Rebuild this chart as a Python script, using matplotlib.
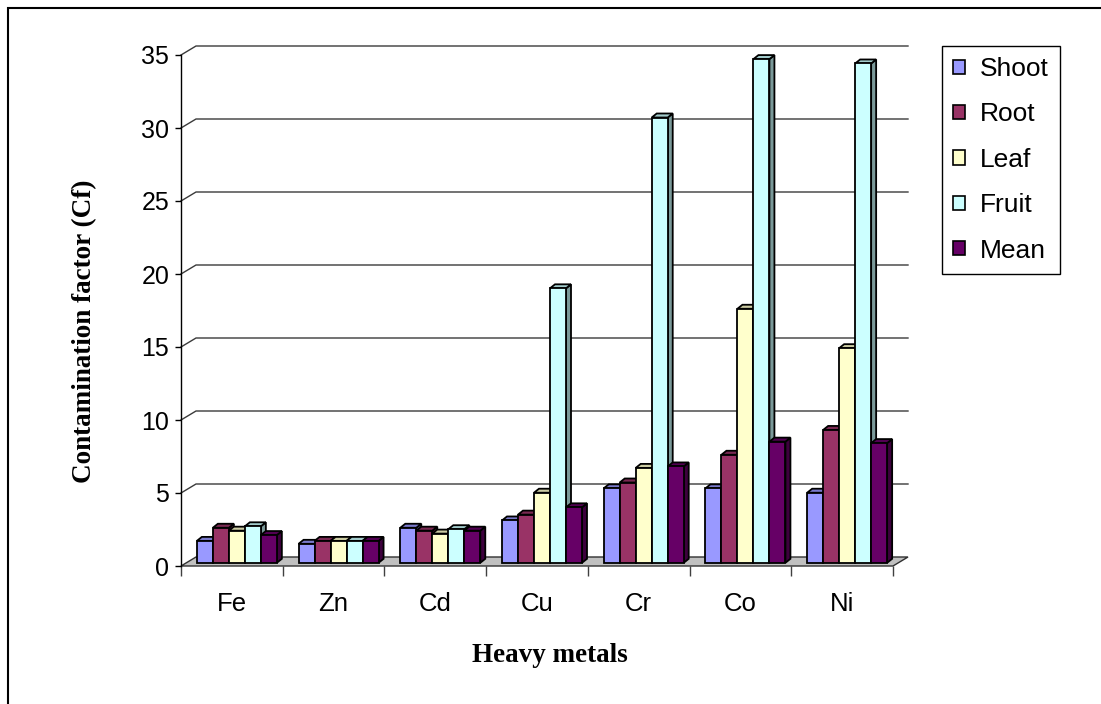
import matplotlib
matplotlib.use("Agg")
import matplotlib.pyplot as plt
from matplotlib.patches import Polygon, Patch, Rectangle
from matplotlib.colors import to_rgb

# Contamination factor per plant part for each heavy metal
metals = ["Fe", "Zn", "Cd", "Cu", "Cr", "Co", "Ni"]
series_names = ["Shoot", "Root", "Leaf", "Fruit", "Mean"]
shoot = [1.5, 1.3, 2.4, 2.9, 5.1, 5.1, 4.8]
root = [2.4, 1.5, 2.2, 3.3, 5.5, 7.4, 9.1]
leaf = [2.2, 1.5, 2.0, 4.8, 6.5, 17.4, 14.7]
fruit = [2.5, 1.5, 2.3, 18.8, 30.5, 34.5, 34.2]
mean = [1.9, 1.5, 2.2, 3.8, 6.6, 8.3, 8.2]
yticks = [0, 5, 10, 15, 20, 25, 30, 35]

series = [shoot, root, leaf, fruit, mean]
colors = ["#9999FF", "#993366", "#FFFFCC", "#CCFFFF", "#660066"]

plt.rcParams["font.family"] = ["Liberation Sans", "DejaVu Sans"]

W, H = 1101, 704
fig = plt.figure(figsize=(W / 100, H / 100), dpi=100)
# axes = front plane of the 3-D plot box
ax_l, ax_b, ax_w, ax_h = 181, 566, 712, 511  # pixels (b measured from top)
ax = fig.add_axes([ax_l / W, (H - ax_b) / H, ax_w / W, ax_h / H])
ncat = len(metals)
ax.set_xlim(0, ncat)
ax.set_ylim(0, yticks[-1])
ax.patch.set_visible(False)

# pixel -> data conversion factors for the oblique depth offsets
ppx = ax_w / ncat
ppy = ax_h / yticks[-1]
wall_dx, wall_dy = 15 / ppx, 9 / ppy      # back wall offset
bar_x0, bar_y0 = 5 / ppx, 3.2 / ppy       # bar front plane offset
bar_dx, bar_dy = 5 / ppx, 4 / ppy         # bar depth
bar_w = 16 / ppx
gap = (1 - len(series) * bar_w) / 2

grid_col = "#3a3a3a"
# back-wall gridlines with slanted connectors to the value axis
for v in yticks[1:]:
    ax.plot([0, wall_dx, ncat + wall_dx], [v, v + wall_dy, v + wall_dy],
            color=grid_col, lw=1.0, clip_on=False, zorder=1)

# floor
floor = Polygon([(0, 0), (ncat, 0), (ncat + wall_dx, wall_dy), (wall_dx, wall_dy)],
                closed=True, facecolor="#C0C0C0", edgecolor="#303030", lw=1.0,
                clip_on=False, zorder=2)
ax.add_patch(floor)


def shade(c, f):
    r, g, b = to_rgb(c)
    return (r * f, g * f, b * f)


# 3-D columns
z = 3
for i in range(ncat):
    for k, (vals, col) in enumerate(zip(series, colors)):
        v = vals[i]
        x0 = i + gap + k * bar_w + bar_x0
        x1 = x0 + bar_w
        y0 = bar_y0
        y1 = bar_y0 + v
        front = Polygon([(x0, y0), (x1, y0), (x1, y1), (x0, y1)], closed=True,
                        facecolor=col, edgecolor="black", lw=1.3,
                        joinstyle="miter", clip_on=False, zorder=z)
        top = Polygon([(x0, y1), (x1, y1), (x1 + bar_dx, y1 + bar_dy),
                       (x0 + bar_dx, y1 + bar_dy)], closed=True,
                      facecolor=shade(col, 0.8), edgecolor="black", lw=1.3,
                      joinstyle="miter", clip_on=False, zorder=z)
        side = Polygon([(x1, y0), (x1 + bar_dx, y0 + bar_dy),
                        (x1 + bar_dx, y1 + bar_dy), (x1, y1)], closed=True,
                       facecolor=shade(col, 0.6), edgecolor="black", lw=1.3,
                       joinstyle="miter", clip_on=False, zorder=z)
        ax.add_patch(side)
        ax.add_patch(top)
        ax.add_patch(front)
        z += 1

# axes, ticks and labels
for s in ["top", "right", "bottom"]:
    ax.spines[s].set_visible(False)
ax.spines["left"].set_color("black")
ax.spines["left"].set_linewidth(1.0)
ax.spines["left"].set_zorder(z + 1)

ax.set_yticks(yticks)
ax.set_yticklabels([str(t) for t in yticks])
ax.tick_params(axis="y", direction="out", length=4.5, width=1.0, pad=4,
               labelsize=18, color="black")

ax.set_xticks(range(ncat + 1))
ax.set_xticklabels([])
ax.set_xticks([i + 0.5 for i in range(ncat)], minor=True)
ax.set_xticklabels(metals, minor=True)
ax.tick_params(axis="x", which="major", direction="out", length=7.5,
               width=1.0, color="#404040")
ax.tick_params(axis="x", which="minor", length=0, pad=19, labelsize=18.5)

fig.text(85 / W, 1 - 331 / H, "Contamination factor (Cf)", rotation=90,
         ha="center", va="center", family="Liberation Serif",
         weight="bold", size=19.5)
fig.text(550 / W, 1 - 655 / H, "Heavy metals", ha="center", va="center",
         family="Liberation Serif", weight="bold", size=19.5)

handles = [Patch(facecolor=c, edgecolor="black", lw=1.2) for c in colors]
leg = fig.legend(handles, series_names, loc="upper left",
                 bbox_to_anchor=(942 / W, 1 - 46 / H), frameon=True,
                 fancybox=False, edgecolor="black", framealpha=1,
                 fontsize=19, labelspacing=0.81, handlelength=0.46,
                 handleheight=0.46, handletextpad=0.55, borderpad=0.42,
                 borderaxespad=0)
leg.get_frame().set_linewidth(1.0)

# outer chart border
fig.add_artist(Rectangle((8 / W, -0.2), 1.3, 1 - 8 / H + 0.2,
                         transform=fig.transFigure, fill=False,
                         edgecolor="black", lw=1.5))

fig.savefig("out.png", dpi=100)
